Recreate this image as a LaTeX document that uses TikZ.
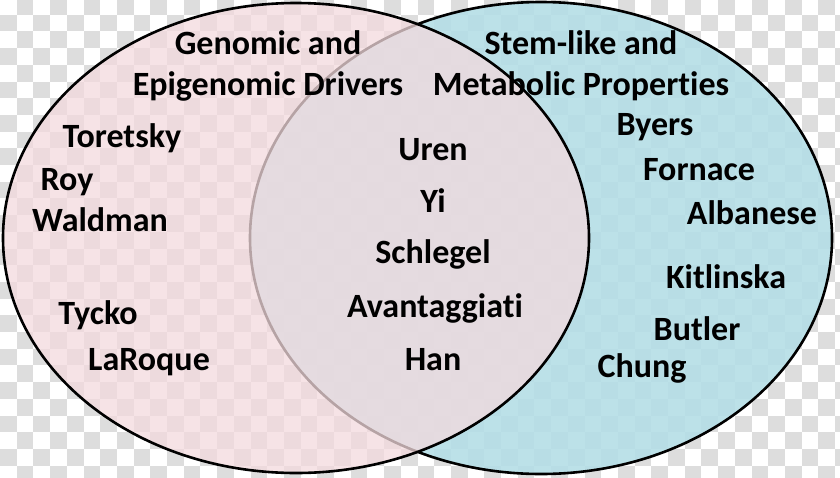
\documentclass[tikz,border=0pt]{standalone}
\usepackage{fontspec}
\setmainfont{Carlito}[Ligatures=NoCommon]
\definecolor{checkgray}{HTML}{DDDDDD}
\definecolor{setpink}{HTML}{F3DADD}
\definecolor{setblue}{HTML}{B5DEE6}
\tikzset{
  author/.style={font=\bfseries\fontsize{34}{41}\selectfont, inner sep=0pt},
  heading/.style={author, align=center},
  setline/.style={line width=2.6pt},
}
\begin{document}
\begin{tikzpicture}[x=1pt,y=-1pt,line cap=round,line join=round]
% two overlapping sets on a checker backdrop, 1pt per pixel, y downwards

\useasboundingbox (0,0) rectangle (840,477);

% checker backdrop
\begin{scope}
\clip (0,0) rectangle (840,477);
\foreach \i in {0,...,50} {
  \foreach \j in {0,...,29} {
    \pgfmathtruncatemacro\odd{mod(\i+\j,2)}
    \ifnum\odd=1
      \fill[checkgray] (\i*16.7,\j*16.7-2) rectangle ++(16.7,16.7);
    \fi
  }
}
\end{scope}

% set centres
\coordinate (L) at (296,238);
\coordinate (R) at (541,238);

% right set first, left set laid over it
\filldraw[setline, fill=setblue, fill opacity=0.9] (R) ellipse [x radius=291pt, y radius=236pt];
\fill[setpink, opacity=0.75] (L) ellipse [x radius=293pt, y radius=235pt];
\draw[setline] (L) ellipse [x radius=293pt, y radius=235pt];

% headings
\node[heading] (genomic) at (268,66) {Genomic and\\Epigenomic Drivers};
\node[heading] (stemlike) at (581,66) {Stem-like and\\Metabolic Properties};

% left only
\node[author] (toretsky) at (122,138) {Toretsky};
\node[author] (roy) at (67,182) {Roy};
\node[author] (waldman) at (100,220) {Waldman};
\node[author] (tycko) at (98,315) {Tycko};
\node[author] (laroque) at (149,362) {LaRoque};

% overlap
\node[author] (uren) at (433,150) {Uren};
\node[author] (yi) at (433,201) {Yi};
\node[author] (schlegel) at (433,254) {Schlegel};
\node[author] (avantaggiati) at (435,308) {Avantaggiati};
\node[author] (han) at (433,360) {Han};

% right only
\node[author] (byers) at (655,127) {Byers};
\node[author] (fornace) at (699,170) {Fornace};
\node[author] (albanese) at (752,213) {Albanese};
\node[author] (kitlinska) at (726,277) {Kitlinska};
\node[author] (butler) at (697,329) {Butler};
\node[author] (chung) at (642,368) {Chung};

\end{tikzpicture}
\end{document}
